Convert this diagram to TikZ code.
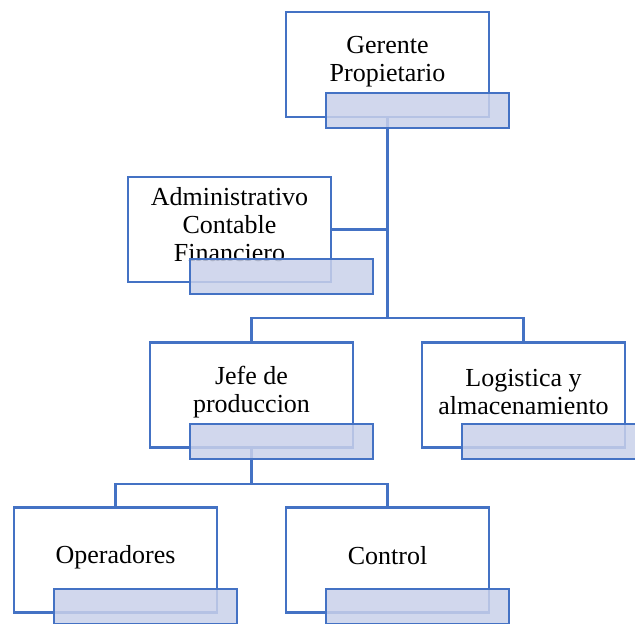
\documentclass[tikz,border=0pt]{standalone}
\usepackage{fontspec}
\setmainfont{Liberation Serif}
\definecolor{bl}{HTML}{4472C4}
\definecolor{lb}{HTML}{C9D1EA}
\begin{document}
\begin{tikzpicture}[x=1pt,y=-1pt,
 mainbox/.style={draw=bl, line width=2.5pt, fill=white, minimum width=203pt, minimum height=105pt, inner sep=0pt, outer sep=0pt},
 subbox/.style={draw=bl, line width=2.5pt, fill=lb, fill opacity=0.85, minimum width=183pt, minimum height=35pt, inner sep=0pt, outer sep=0pt},
 lbl/.style={align=center, font=\fontsize{26}{28}\selectfont, inner sep=0pt},
 conn/.style={draw=bl, line width=2.5pt}]
\useasboundingbox (0,0) rectangle (635,624);
\clip (0,0) rectangle (635,624);
% main boxes
\node[mainbox] (g) at (387.5,64.5) {};
\node[mainbox] (a) at (229.5,229.5) {};
\node[mainbox] (j) at (251.5,395) {};
\node[mainbox] (l) at (523.5,395) {};
\node[mainbox] (o) at (115.5,560) {};
\node[mainbox] (c) at (387.5,560) {};
% connectors
\coordinate (b1) at (387.5,318);
\coordinate (b2) at (251.5,484);
\draw[conn] (g.south) -- (b1);
\draw[conn] (a.east) -- (a.east -| g.south);
\draw[conn] (j.north) -- (j.north |- b1) -- (l.north |- b1) -- (l.north);
\draw[conn] (j.south) -- (b2);
\draw[conn] (o.north) -- (o.north |- b2) -- (c.north |- b2) -- (c.north);
% labels
\node[lbl] (gt) at (387.5,62) {Gerente\\Propietario};
\node[lbl] (at) at (229.5,225) {Administrativo\\Contable\\Financiero};
\node[lbl] (jt) at (251.5,392) {Jefe de\\produccion};
\node[lbl] (lt) at (523.5,392) {Logistica y\\almacenamiento};
\node[lbl] (ot) at (115.5,557) {Operadores};
\node[lbl] (ct) at (387.5,556) {Control};
% secondary boxes
\node[subbox] (gs) at (417.5,110.5) {};
\node[subbox] (as) at (281.5,276.5) {};
\node[subbox] (js) at (281.5,441.5) {};
\node[subbox] (ls) at (553.5,441.5) {};
\node[subbox] (os) at (145.5,606.5) {};
\node[subbox] (cs) at (417.5,606.5) {};
\end{tikzpicture}
\end{document}
